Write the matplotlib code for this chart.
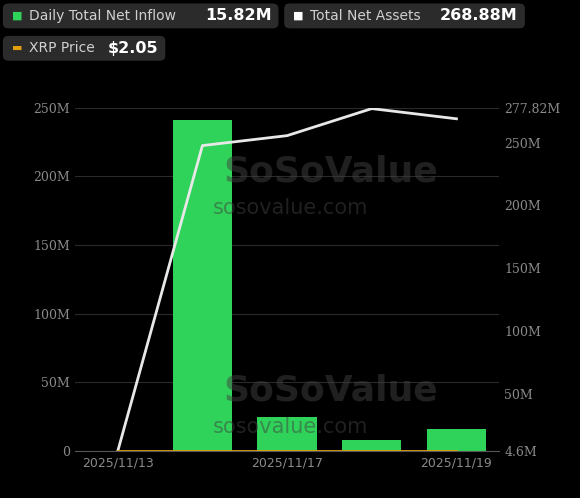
import matplotlib.pyplot as plt
from matplotlib.patches import FancyBboxPatch

dates = ["2025/11/13", "2025/11/14", "2025/11/17", "2025/11/18", "2025/11/19"]
inflow = [0, 241, 24.8, 8, 15.8]          # M USD
assets = [4.6, 247.6, 255.5, 277.0, 268.9]  # M USD

left_ticks = [0, 50, 100, 150, 200, 250]
right_ticks = [4.6, 50, 100, 150, 200, 250, 277.82]
right_labels = ["4.6M", "50M", "100M", "150M", "200M", "250M", "277.82M"]

bg = "#000000"
fig = plt.figure(figsize=(5.8, 4.98), dpi=100, facecolor=bg)
ax = fig.add_axes([0.13, 0.094, 0.73, 0.69], facecolor=bg)
x = list(range(len(dates)))
ax.bar(x, inflow, width=0.7, color="#2fd35a", zorder=2)
ax.set_ylim(0, 250)
ax.set_xlim(-0.5, 4.5)
ax.set_yticks(left_ticks)
ax.set_yticklabels([f"{t}M" if t else "0" for t in left_ticks], family="DejaVu Serif", fontsize=9, color="#8a8a8a")
ax.set_xticks([0, 2, 4])
ax.set_xticklabels([dates[0], dates[2], dates[4]], fontsize=9, color="#8a8a8a")
ax.grid(axis="y", color="#2a2a2a", lw=0.8, zorder=0)
for s in ax.spines.values():
    s.set_visible(False)
ax.spines["bottom"].set_visible(True)
ax.spines["bottom"].set_color("#555555")
ax.tick_params(length=0, pad=4)

ax2 = ax.twinx()
ax2.plot(x, assets, color="#e8e8e8", lw=2, zorder=3)
ax2.set_ylim(4.6, 277.82)
ax2.set_yticks(right_ticks)
ax2.set_yticklabels(right_labels, family="DejaVu Serif", fontsize=9, color="#8a8a8a")
ax2.tick_params(length=0, pad=4)
for s in ax2.spines.values():
    s.set_visible(False)

ax3 = ax.twinx()
ax3.plot(x, [0] * len(x), color="#e0a010", lw=2, zorder=4)
ax3.set_ylim(0, 100)
ax3.axis("off")

# watermarks
for yy in (0.57, 0.13):
    fig.text(0.57, yy + 0.065, "SoSoValue", fontsize=26, fontweight="bold", color="#404040", ha="center", alpha=0.5)
    fig.text(0.50, yy, "sosovalue.com", fontsize=15, color="#404040", ha="center", alpha=0.5)

def legend_box(x0, y0, w, color, label, value):
    fig.patches.append(FancyBboxPatch((x0, y0), w, 0.05, boxstyle="round,pad=0,rounding_size=0.01",
                                      transform=fig.transFigure, facecolor="#2b2b2b", edgecolor="none"))
    fig.text(x0 + 0.016, y0 + 0.025, "■" if color != "#e0a010" else "▬", color=color, fontsize=8, va="center")
    fig.text(x0 + 0.045, y0 + 0.025, label, color="#d0d0d0", fontsize=10, va="center")
    fig.text(x0 + w - 0.012, y0 + 0.025, value, color="white", fontsize=11.5, fontweight="bold", va="center", ha="right")

legend_box(0.005, 0.943, 0.475, "#2fd35a", "Daily Total Net Inflow", "15.82M")
legend_box(0.49, 0.943, 0.415, "white", "Total Net Assets", "268.88M")
legend_box(0.005, 0.878, 0.28, "#e0a010", "XRP Price", "$2.05")

fig.savefig("out.png", dpi=100, facecolor=bg)
